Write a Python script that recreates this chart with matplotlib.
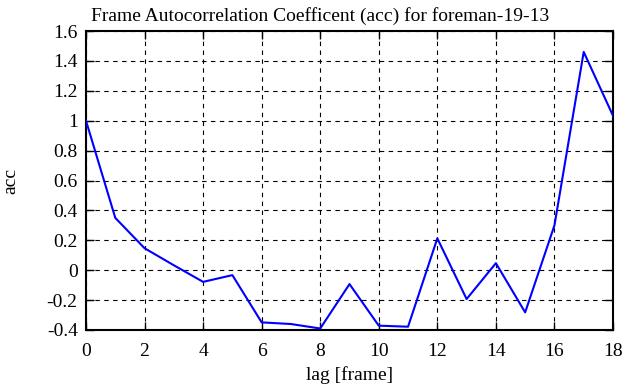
import numpy as np
import matplotlib.pyplot as plt

lag = np.arange(0, 19)
acc = [1.0, 0.35, 0.147, 0.033, -0.078, -0.033, -0.349, -0.36, -0.39,
       -0.093, -0.371, -0.378, 0.213, -0.193, 0.047, -0.282, 0.3, 1.46, 1.033]

plt.rcParams['font.family'] = ['Liberation Serif', 'DejaVu Serif']
plt.rcParams['font.size'] = 14

fig = plt.figure(figsize=(6.41, 3.87), dpi=100)
ax = fig.add_axes([86 / 641, 1 - 330 / 387, (613 - 86) / 641, (330 - 31) / 387])

ax.plot(lag, acc, color='#0000ff', linewidth=1.5, zorder=3)

ax.set_xlim(0, 18)
ax.set_ylim(-0.4, 1.6)
ax.set_xticks(np.arange(0, 19, 2))
yt = np.round(np.arange(-0.4, 1.61, 0.2), 1)
ax.set_yticks(yt)
ax.set_yticklabels(['%g' % v for v in yt])

ax.grid(True, color='black', linestyle=(0, (4, 4)), linewidth=0.8)
ax.tick_params(direction='in', top=True, right=True, length=6, width=1)
ax.tick_params(axis='x', pad=9)
ax.tick_params(axis='y', pad=6)
for s in ax.spines.values():
    s.set_linewidth(1.5)

# title centred on the whole figure, like gnuplot does
fig.text(0.5, 1 - 21 / 387, 'Frame Autocorrelation Coefficent (acc) for foreman-19-13',
         ha='center', va='baseline', fontsize=14)
ax.set_xlabel('lag [frame]', labelpad=5)
ax.set_ylabel('acc', labelpad=20)

fig.savefig('out.png', dpi=100)
